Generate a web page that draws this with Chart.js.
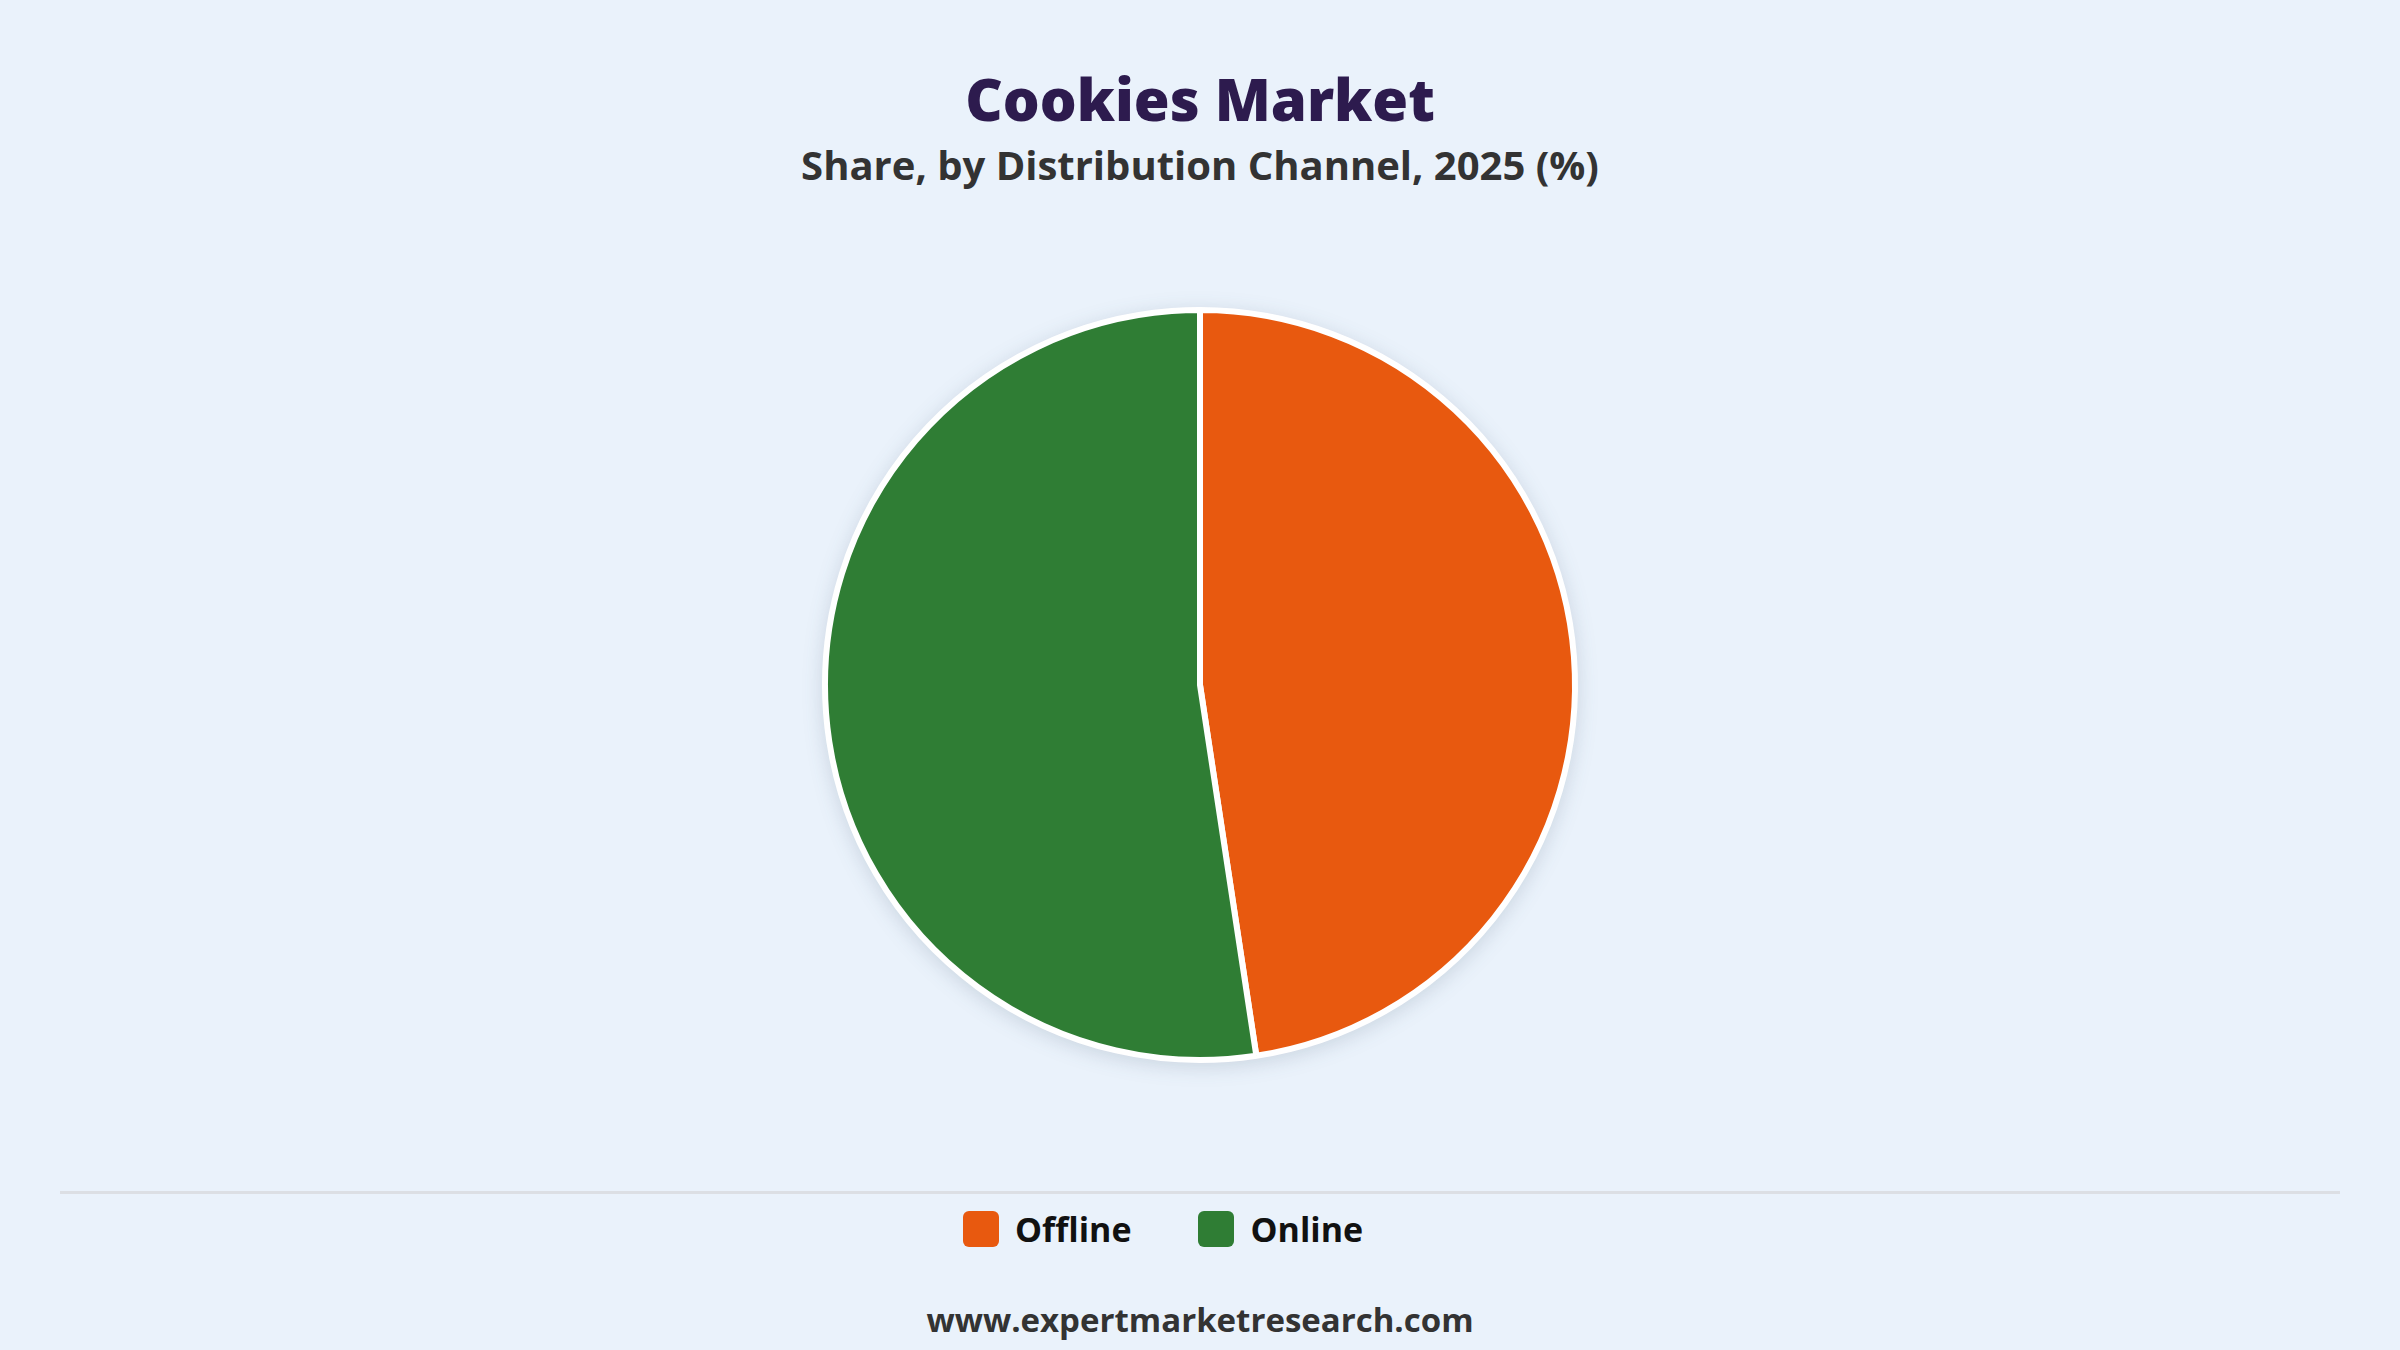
<!DOCTYPE html>
<html>
<head>
<meta charset="utf-8">
<title>Cookies Market</title>
<script src="https://cdn.jsdelivr.net/npm/chart.js@4"></script>
<style>
    html, body {
        margin: 0;
        padding: 0;
        width: 2400px;
        height: 1350px;
        background: #eaf2fb;
        font-family: "Open Sans", "Noto Sans", sans-serif;
        overflow: hidden;
    }
    #title {
        position: absolute;
        top: 64px;
        width: 100%;
        text-align: center;
        font-size: 58px;
        font-weight: 800;
        color: #2d1b4e;
        line-height: 70px;
    }
    #subtitle {
        position: absolute;
        top: 140px;
        width: 100%;
        text-align: center;
        font-size: 40px;
        font-weight: 700;
        color: #333333;
        line-height: 50px;
    }
    #chart-wrap {
        position: absolute;
        top: 305px;
        left: 0;
        width: 2400px;
        height: 760px;
    }
    #chart-wrap canvas {
        filter: drop-shadow(0 4px 10px rgba(40, 60, 90, 0.16));
    }
    #divider {
        position: absolute;
        top: 1191px;
        left: 60px;
        width: 2280px;
        height: 3px;
        background: #dcdfe4;
    }
    #legend {
        position: absolute;
        top: 1205px;
        left: -37px;
        width: 100%;
        display: flex;
        justify-content: center;
        gap: 67px;
    }
    .legend-item {
        display: flex;
        align-items: center;
        font-size: 34px;
        font-weight: 700;
        color: #111111;
        line-height: 48px;
    }
    .legend-box {
        width: 36px;
        height: 36px;
        border-radius: 6px;
        margin-right: 16px;
    }
    #footer {
        position: absolute;
        top: 1297px;
        width: 100%;
        text-align: center;
        font-size: 33px;
        font-weight: 700;
        color: #333333;
        line-height: 46px;
    }
</style>
</head>
<body>
<div id="title">Cookies Market</div>
<div id="subtitle">Share, by Distribution Channel, 2025 (%)</div>
<div id="chart-wrap"><canvas id="share-chart"></canvas></div>
<div id="divider"></div>
<div id="legend"></div>
<div id="footer">www.expertmarketresearch.com</div>

<script>
const channels = ["Offline", "Online"];
const shares = [47.6, 52.4];
const channelColors = ["#e8590f", "#2f7d34"];

const legend = document.getElementById("legend");
channels.forEach((name, i) => {
    const item = document.createElement("div");
    item.className = "legend-item";
    item.innerHTML = `<span class="legend-box" style="background:${channelColors[i]}"></span>${name}`;
    legend.appendChild(item);
});

const ctx = document.getElementById("share-chart").getContext("2d");
new Chart(ctx, {
    type: "pie",
    data: {
        labels: channels,
        datasets: [{
            data: shares,
            backgroundColor: channelColors,
            borderColor: "#ffffff",
            borderWidth: 6,
        }]
    },
    options: {
        responsive: true,
        maintainAspectRatio: false,
        animation: false,
        radius: 375,
        layout: { padding: 0 },
        plugins: {
            legend: { display: false },
            tooltip: { enabled: false },
        }
    }
});
</script>
</body>
</html>
